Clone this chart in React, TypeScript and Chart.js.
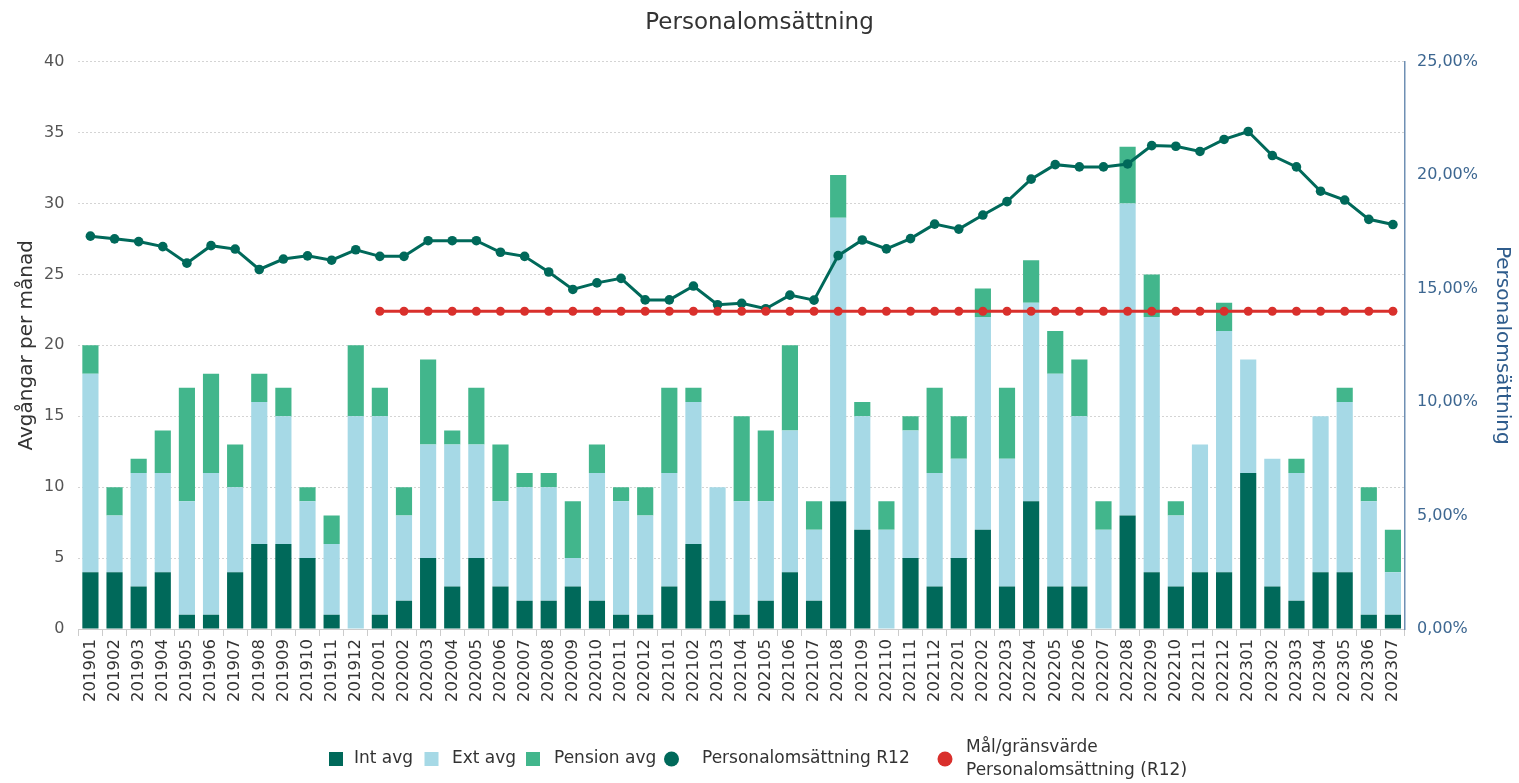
import React, { useEffect, useRef } from "react";
import { Chart, registerables } from "chart.js";

Chart.register(...registerables);

const FONT = '"DejaVu Sans", Verdana, sans-serif';

const months = [
  "201901", "201902", "201903", "201904", "201905", "201906", "201907", "201908", "201909", "201910", "201911", "201912",
  "202001", "202002", "202003", "202004", "202005", "202006", "202007", "202008", "202009", "202010", "202011", "202012",
  "202101", "202102", "202103", "202104", "202105", "202106", "202107", "202108", "202109", "202110", "202111", "202112",
  "202201", "202202", "202203", "202204", "202205", "202206", "202207", "202208", "202209", "202210", "202211", "202212",
  "202301", "202302", "202303", "202304", "202305", "202306", "202307",
];

const intAvg = [
  4, 4, 3, 4, 1, 1, 4, 6, 6, 5, 1, 0,
  1, 2, 5, 3, 5, 3, 2, 2, 3, 2, 1, 1,
  3, 6, 2, 1, 2, 4, 2, 9, 7, 0, 5, 3,
  5, 7, 3, 9, 3, 3, 0, 8, 4, 3, 4, 4,
  11, 3, 2, 4, 4, 1, 1,
];

const extAvg = [
  14, 4, 8, 7, 8, 10, 6, 10, 9, 4, 5, 15,
  14, 6, 8, 10, 8, 6, 8, 8, 2, 9, 8, 7,
  8, 10, 8, 8, 7, 10, 5, 20, 8, 7, 9, 8,
  7, 15, 9, 14, 15, 12, 7, 22, 18, 5, 9, 17,
  8, 9, 9, 11, 12, 8, 3,
];

const pensionAvg = [
  2, 2, 1, 3, 8, 7, 3, 2, 2, 1, 2, 5,
  2, 2, 6, 1, 4, 4, 1, 1, 4, 2, 1, 2,
  6, 1, 0, 6, 5, 6, 2, 3, 1, 2, 1, 6,
  3, 2, 5, 3, 3, 4, 2, 4, 3, 1, 0, 2,
  0, 0, 1, 0, 1, 1, 3,
];

const r12 = [
  17.31, 17.19, 17.07, 16.85, 16.12, 16.89, 16.74, 15.84, 16.3, 16.44, 16.25, 16.71,
  16.42, 16.42, 17.11, 17.11, 17.11, 16.6, 16.42, 15.73, 14.96, 15.25, 15.45, 14.5,
  14.5, 15.11, 14.29, 14.35, 14.11, 14.71, 14.49, 16.45, 17.14, 16.75, 17.2, 17.84,
  17.62, 18.24, 18.83, 19.82, 20.46, 20.36, 20.36, 20.49, 21.3, 21.27, 21.04, 21.57,
  21.92, 20.86, 20.36, 19.29, 18.9, 18.05, 17.82,
];

const target = [
  null, null, null, null, null, null, null, null, null, null, null, null,
  14, 14, 14, 14, 14, 14, 14, 14, 14, 14, 14, 14,
  14, 14, 14, 14, 14, 14, 14, 14, 14, 14, 14, 14,
  14, 14, 14, 14, 14, 14, 14, 14, 14, 14, 14, 14,
  14, 14, 14, 14, 14, 14, 14,
];

const leftTicks = [0, 5, 10, 15, 20, 25, 30, 35, 40];
const rightTicks = [0, 5, 10, 15, 20, 25];

const COL_INT = "#00695A";
const COL_EXT = "#A6D9E6";
const COL_PEN = "#42B68C";
const COL_R12 = "#00695A";
const COL_TGT = "#D9302C";

const legendItems = [
  { shape: "rect", color: COL_INT, text: ["Int avg"], mx: 336, tx: 354 },
  { shape: "rect", color: COL_EXT, text: ["Ext avg"], mx: 431.5, tx: 452 },
  { shape: "rect", color: COL_PEN, text: ["Pension avg"], mx: 533, tx: 554 },
  { shape: "circle", color: COL_R12, text: ["Personalomsättning R12"], mx: 671.5, tx: 702 },
  { shape: "circle", color: COL_TGT, text: ["Mål/gränsvärde", "Personalomsättning (R12)"], mx: 945, tx: 966 },
];

const legendPlugin = {
  id: "bottomLegend",
  afterDraw(chart: any) {
    const ctx = chart.ctx;
    const cy = 759;
    ctx.save();
    ctx.font = `17px ${FONT}`;
    ctx.textBaseline = "middle";
    ctx.textAlign = "left";
    legendItems.forEach((it) => {
      ctx.fillStyle = it.color;
      if (it.shape === "rect") {
        ctx.fillRect(it.mx - 7, cy - 7, 14, 14);
      } else {
        ctx.beginPath();
        ctx.arc(it.mx, cy, 7.5, 0, Math.PI * 2);
        ctx.fill();
      }
      ctx.fillStyle = "#333333";
      if (it.text.length === 1) {
        ctx.fillText(it.text[0], it.tx, cy);
      } else {
        ctx.fillText(it.text[0], it.tx, cy - 11.5);
        ctx.fillText(it.text[1], it.tx, cy + 11.5);
      }
    });
    ctx.restore();
  },
};

const bgPlugin = {
  id: "whiteBg",
  beforeDraw(chart: any) {
    const ctx = chart.ctx;
    ctx.save();
    ctx.fillStyle = "#ffffff";
    ctx.fillRect(0, 0, chart.width, chart.height);
    ctx.restore();
  },
};

export default function App() {
  const ref = useRef<HTMLCanvasElement | null>(null);

  useEffect(() => {
    document.body.style.margin = "0";
    document.body.style.overflow = "hidden";
    if (!ref.current) return;
    Chart.defaults.font.family = FONT;

    const chart = new Chart(ref.current, {
      type: "bar",
      data: {
        labels: months,
        datasets: [
          {
            type: "line",
            label: "Mål/gränsvärde Personalomsättning (R12)",
            data: target,
            yAxisID: "y1",
            borderColor: COL_TGT,
            backgroundColor: COL_TGT,
            borderWidth: 3,
            pointRadius: 4.5,
            pointBorderWidth: 0,
            pointBackgroundColor: COL_TGT,
            tension: 0,
            order: 0,
          } as any,
          {
            type: "line",
            label: "Personalomsättning R12",
            data: r12,
            yAxisID: "y1",
            borderColor: COL_R12,
            backgroundColor: COL_R12,
            borderWidth: 3,
            pointRadius: 4.8,
            pointBorderWidth: 0,
            pointBackgroundColor: COL_R12,
            tension: 0,
            order: 1,
          } as any,
          {
            label: "Int avg",
            data: intAvg,
            backgroundColor: COL_INT,
            stack: "s",
            yAxisID: "y",
            order: 2,
            barPercentage: 0.67,
            categoryPercentage: 1,
          },
          {
            label: "Ext avg",
            data: extAvg,
            backgroundColor: COL_EXT,
            stack: "s",
            yAxisID: "y",
            order: 3,
            barPercentage: 0.67,
            categoryPercentage: 1,
          },
          {
            label: "Pension avg",
            data: pensionAvg,
            backgroundColor: COL_PEN,
            stack: "s",
            yAxisID: "y",
            order: 4,
            barPercentage: 0.67,
            categoryPercentage: 1,
          },
        ],
      },
      options: {
        animation: false,
        responsive: true,
        maintainAspectRatio: false,
        layout: { padding: { left: 0, right: 0, top: 0, bottom: 78 } },
        plugins: {
          legend: { display: false },
          tooltip: { enabled: false },
          title: {
            display: true,
            text: "Personalomsättning",
            color: "#333333",
            font: { family: FONT, size: 23, weight: "normal" as any },
            padding: { top: 9, bottom: 25 },
          },
        },
        scales: {
          x: {
            stacked: true,
            offset: true,
            grid: {
              display: true,
              drawOnChartArea: false,
              drawTicks: true,
              tickLength: 7,
              color: "#cccccc",
              offset: true,
            },
            border: { display: true, color: "#cccccc" },
            ticks: {
              color: "#333333",
              font: { family: FONT, size: 16.5 },
              minRotation: 90,
              maxRotation: 90,
              autoSkip: false,
              padding: 3,
            },
          },
          y: {
            position: "left",
            stacked: true,
            min: 0,
            max: 40,
            afterBuildTicks: (axis: any) => {
              axis.ticks = leftTicks.map((v) => ({ value: v }));
            },
            ticks: {
              color: "#555555",
              font: { family: FONT, size: 16 },
              padding: 14,
            },
            grid: { color: "#d4d4d4", drawTicks: false, lineWidth: 1 },
            border: { display: false, dash: [2, 2] },
            title: {
              display: true,
              text: "Avgångar per månad",
              color: "#333333",
              font: { family: FONT, size: 20 },
              padding: { top: 15, bottom: -9 },
            },
          },
          y1: {
            position: "right",
            min: 0,
            max: 25,
            afterBuildTicks: (axis: any) => {
              axis.ticks = rightTicks.map((v) => ({ value: v }));
            },
            ticks: {
              color: "#3d6791",
              font: { family: FONT, size: 16 },
              padding: 12,
              callback: (v: any) => Number(v).toFixed(2).replace(".", ",") + "%",
            },
            grid: { drawOnChartArea: false, drawTicks: false },
            border: { display: true, color: "#6f8fb3", width: 1.5 },
            title: {
              display: true,
              text: "Personalomsättning",
              color: "#2f5c8c",
              font: { family: FONT, size: 20 },
              padding: { top: 5, bottom: 0 },
            },
          },
        },
      } as any,
      plugins: [bgPlugin, legendPlugin],
    });

    return () => chart.destroy();
  }, []);

  return (
    <div style={{ width: "1519px", height: "783px", position: "relative" }}>
      <canvas ref={ref} />
    </div>
  );
}
